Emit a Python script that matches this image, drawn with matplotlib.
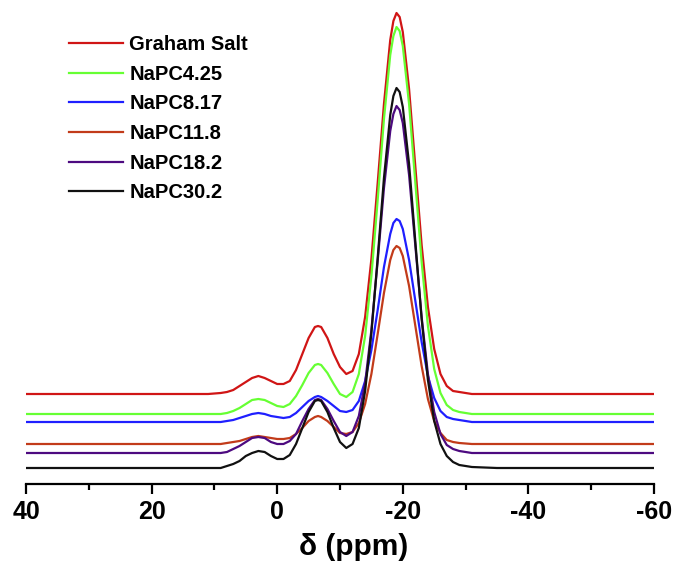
import numpy as np
import matplotlib
matplotlib.use('Agg')
import matplotlib.pyplot as plt
from matplotlib.ticker import MultipleLocator

plt.rcParams['font.family'] = ['Liberation Sans', 'DejaVu Sans']
plt.rcParams['font.weight'] = 'bold'
plt.rcParams['axes.unicode_minus'] = False

# chemical shift grid (ppm), shared by every spectrum
ppm = [40, 30, 20, 14, 11, 9, 8, 7, 6, 5, 4, 3, 2, 1, 0, -1, -2, -3, -4, -5,
       -6, -6.5, -7, -8, -9, -10, -11, -12, -13, -14, -15, -16, -17, -18, -18.5,
       -19, -19.5, -20, -21, -22, -23, -24, -25, -26, -27, -28, -29, -31, -35,
       -45, -60]

# stacked intensities (arb. units, offset baselines)
graham = [90, 90, 90, 90, 90, 91, 92, 94, 98, 102, 106, 108, 106, 103, 100, 100,
          103, 114, 130, 146, 157, 158, 157, 146, 130, 117, 110, 113, 130, 167,
          225, 301, 380, 444, 463, 471, 467, 452, 395, 317, 239, 177, 135, 110,
          98, 93, 92, 90, 90, 90, 90]
napc425 = [70, 70, 70, 70, 70, 70, 71, 73, 76, 80, 84, 85, 84, 81, 78, 77, 80,
           88, 99, 111, 119, 120, 119, 111, 100, 90, 87, 92, 110, 148, 208, 284,
           365, 429, 448, 457, 453, 438, 380, 301, 222, 158, 115, 91, 79, 74, 72,
           70, 70, 70, 70]
napc817 = [62, 62, 62, 62, 62, 62, 63, 64, 66, 68, 70, 71, 70, 68, 67, 66, 67,
           71, 77, 83, 87, 88, 87, 83, 78, 73, 72, 74, 83, 103, 134, 174, 217,
           250, 261, 265, 263, 255, 224, 183, 142, 108, 86, 73, 67, 65, 64, 62,
           62, 62, 62]
napc118 = [40, 40, 40, 40, 40, 40, 41, 42, 43, 45, 47, 48, 47, 46, 45, 45, 46,
           50, 56, 63, 67, 68, 67, 63, 57, 51, 50, 52, 61, 80, 110, 150, 191, 224,
           234, 238, 236, 228, 198, 158, 118, 85, 63, 51, 44, 42, 41, 40, 40, 40,
           40]
napc182 = [31, 31, 31, 31, 31, 31, 32, 35, 38, 42, 46, 47, 46, 42, 40, 40, 43,
           50, 63, 75, 84, 85, 84, 75, 63, 52, 48, 52, 68, 101, 154, 223, 296,
           353, 370, 378, 374, 361, 309, 238, 167, 110, 72, 50, 39, 35, 33, 31,
           31, 31, 31]
napc302 = [16, 16, 16, 16, 16, 16, 18, 20, 23, 28, 31, 33, 32, 28, 25, 25, 29,
           40, 56, 72, 83, 84, 83, 72, 56, 42, 36, 40, 56, 93, 151, 226, 306, 369,
           388, 396, 392, 377, 320, 242, 165, 104, 63, 40, 28, 22, 19, 17, 16, 16,
           16]

labels = ['Graham Salt', 'NaPC4.25', 'NaPC8.17', 'NaPC11.8', 'NaPC18.2', 'NaPC30.2']
colors = ['#d01515', '#66ff33', '#1f1fff', '#c23b1a', '#4d0a80', '#111111']
spectra = [graham, napc425, napc817, napc118, napc182, napc302]

fig = plt.figure(figsize=(6.73, 5.62), dpi=100)
ax = fig.add_axes([26/673, 78/562, 628/673, 476/562])

for y, lab, c in zip(spectra, labels, colors):
    ax.plot(ppm, y, color=c, lw=1.6, label=lab)

ax.set_xlim(40, -60)
ax.set_ylim(0, 476)

for s in ['left', 'right', 'top']:
    ax.spines[s].set_visible(False)
ax.spines['bottom'].set_linewidth(1.6)
ax.set_yticks([])
ax.xaxis.set_major_locator(MultipleLocator(20))
ax.xaxis.set_minor_locator(MultipleLocator(10))
ax.tick_params(axis='x', which='major', direction='out', length=7.5, width=1.6,
               labelsize=18, pad=4)
ax.tick_params(axis='x', which='minor', direction='out', length=4, width=1.6)
for t in ax.get_xticklabels():
    t.set_fontweight('bold')

ax.set_xlabel('\u03b4 (ppm)', fontsize=21.5, fontweight='bold')
ax.xaxis.set_label_coords(0.522, -0.102)

leg = ax.legend(loc='upper left', bbox_to_anchor=(69/673, 1 - 35/562),
                bbox_transform=fig.transFigure, frameon=False, fontsize=14.5,
                handlelength=2.7, handletextpad=0.3, labelspacing=0.53,
                borderpad=0, borderaxespad=0)
for t in leg.get_texts():
    t.set_fontweight('bold')

fig.savefig('out.png', dpi=100)
